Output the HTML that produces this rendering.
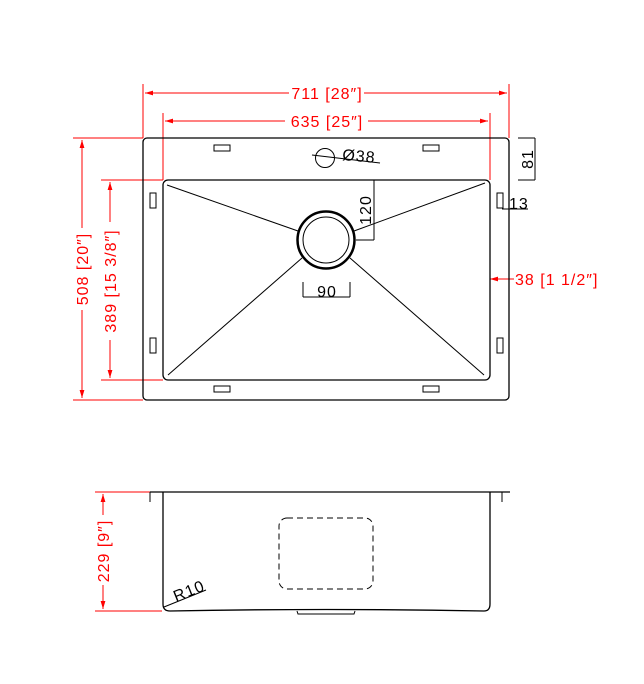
<!DOCTYPE html>
<html><head><style>
html,body{margin:0;padding:0;background:#fff;}
svg{display:block;}
.r{fill:#ff0000;font-family:"Liberation Sans",sans-serif;font-size:16px;letter-spacing:1px;}
.k{fill:#000;font-family:"Liberation Sans",sans-serif;font-size:16px;letter-spacing:1px;}
</style></head><body>
<svg width="644" height="684" viewBox="0 0 644 684" xmlns="http://www.w3.org/2000/svg">
<defs>
<marker id="a" viewBox="0 0 10 6" refX="10" refY="3" markerWidth="8" markerHeight="5" orient="auto-start-reverse"><path d="M0,0L10,3L0,6z" fill="#f00"/></marker>
</defs>
<g stroke="#f00" stroke-width="1" fill="none">
<line x1="143" y1="84" x2="143" y2="138"/>
<line x1="509" y1="84" x2="509" y2="138"/>
<line x1="145" y1="93" x2="289" y2="93" marker-start="url(#a)"/>
<line x1="364" y1="93" x2="507" y2="93" marker-end="url(#a)"/>
<line x1="163" y1="113" x2="163" y2="180"/>
<line x1="490" y1="113" x2="490" y2="180"/>
<line x1="165" y1="121" x2="285" y2="121" marker-start="url(#a)"/>
<line x1="368" y1="121" x2="488" y2="121" marker-end="url(#a)"/>
<line x1="73" y1="138" x2="143" y2="138"/>
<line x1="73" y1="400" x2="143" y2="400"/>
<line x1="82" y1="140" x2="82" y2="228" marker-start="url(#a)"/>
<line x1="82" y1="310" x2="82" y2="398" marker-end="url(#a)"/>
<line x1="101" y1="180" x2="163" y2="180"/>
<line x1="101" y1="380" x2="163" y2="380"/>
<line x1="110" y1="182" x2="110" y2="222" marker-start="url(#a)"/>
<line x1="110" y1="340" x2="110" y2="378" marker-end="url(#a)"/>
<line x1="490" y1="270" x2="490" y2="285"/>
<line x1="490" y1="279" x2="500" y2="279" marker-start="url(#a)"/>
<line x1="500" y1="279" x2="514" y2="279"/>
<line x1="95" y1="492" x2="150" y2="492"/>
<line x1="95" y1="611" x2="162" y2="611"/>
<line x1="103" y1="494" x2="103" y2="515" marker-start="url(#a)"/>
<line x1="103" y1="585" x2="103" y2="609" marker-end="url(#a)"/>
</g>
<text class="r" x="327" y="99" text-anchor="middle">711 [28″]</text>
<text class="r" x="327" y="127" text-anchor="middle">635 [25″]</text>
<text class="r" x="515" y="285">38 [1 1/2″]</text>
<text class="r" transform="translate(88,269) rotate(-90)" text-anchor="middle">508 [20″]</text>
<text class="r" transform="translate(116,281) rotate(-90)" text-anchor="middle">389 [15 3/8″]</text>
<text class="r" transform="translate(109,551) rotate(-90)" text-anchor="middle">229 [9″]</text>
<g stroke="#000" fill="none" stroke-width="1">
<rect x="143" y="138" width="366" height="262" rx="4" stroke-width="1.3"/>
<rect x="163" y="180" width="327" height="200" rx="5" stroke-width="1.3"/>
<rect x="214" y="145" width="16" height="6"/>
<rect x="423" y="145" width="16" height="6"/>
<rect x="214" y="386" width="16" height="6"/>
<rect x="423" y="386" width="16" height="6"/>
<rect x="150" y="193" width="6" height="15"/>
<rect x="150" y="338" width="6" height="15"/>
<rect x="497" y="193" width="6" height="15"/>
<rect x="497" y="338" width="6" height="15"/>
<line x1="167" y1="185" x2="298" y2="231"/>
<line x1="168" y1="375" x2="302" y2="258"/>
<line x1="485" y1="183" x2="354" y2="231"/>
<line x1="484" y1="375" x2="350" y2="258"/>
<circle cx="326" cy="240" r="28.5" stroke-width="2.5"/>
<circle cx="326" cy="240" r="23"/>
<line x1="356" y1="180" x2="374" y2="180"/>
<line x1="374" y1="180" x2="374" y2="240"/>
<line x1="356" y1="240" x2="374" y2="240"/>
<line x1="303" y1="282" x2="303" y2="297"/>
<line x1="350" y1="282" x2="350" y2="297"/>
<line x1="303" y1="297" x2="350" y2="297"/>
<circle cx="325" cy="158" r="9.5"/>
<line x1="312" y1="155" x2="380" y2="163"/>
<line x1="518" y1="138" x2="535" y2="138"/>
<line x1="535" y1="138" x2="535" y2="180"/>
<line x1="518" y1="180" x2="535" y2="180"/>
<line x1="502" y1="209" x2="528" y2="209"/>
</g>
<text class="k" x="342" y="160" font-size="18" transform="rotate(5 342 160)">Ø38</text>
<text class="k" transform="translate(371,210) rotate(-90)" text-anchor="middle">120</text>
<text class="k" x="327" y="297" text-anchor="middle">90</text>
<text class="k" transform="translate(533,159) rotate(-90)" text-anchor="middle">81</text>
<text class="k" x="509" y="209" font-size="17">13</text>
<g stroke="#000" fill="none" stroke-width="1">
<line x1="150" y1="492" x2="510" y2="492" stroke-width="1.3"/>
<line x1="150" y1="492" x2="150" y2="502"/>
<line x1="502" y1="492" x2="502" y2="502"/>
<path d="M163,492 L163,604 Q163,611 170,611 Q326,608 484,611 Q490,611 490,604 L490,492" stroke-width="1.3"/>
<path d="M297,611 L298,614 L354,614 L355,611"/>
<rect x="279" y="518" width="94" height="71" rx="8" stroke-dasharray="6,4"/>
<line x1="164" y1="607" x2="206" y2="590"/>
</g>
<text class="k" x="176" y="602" transform="rotate(-22 176 602)">R10</text>
</svg>
</body></html>
